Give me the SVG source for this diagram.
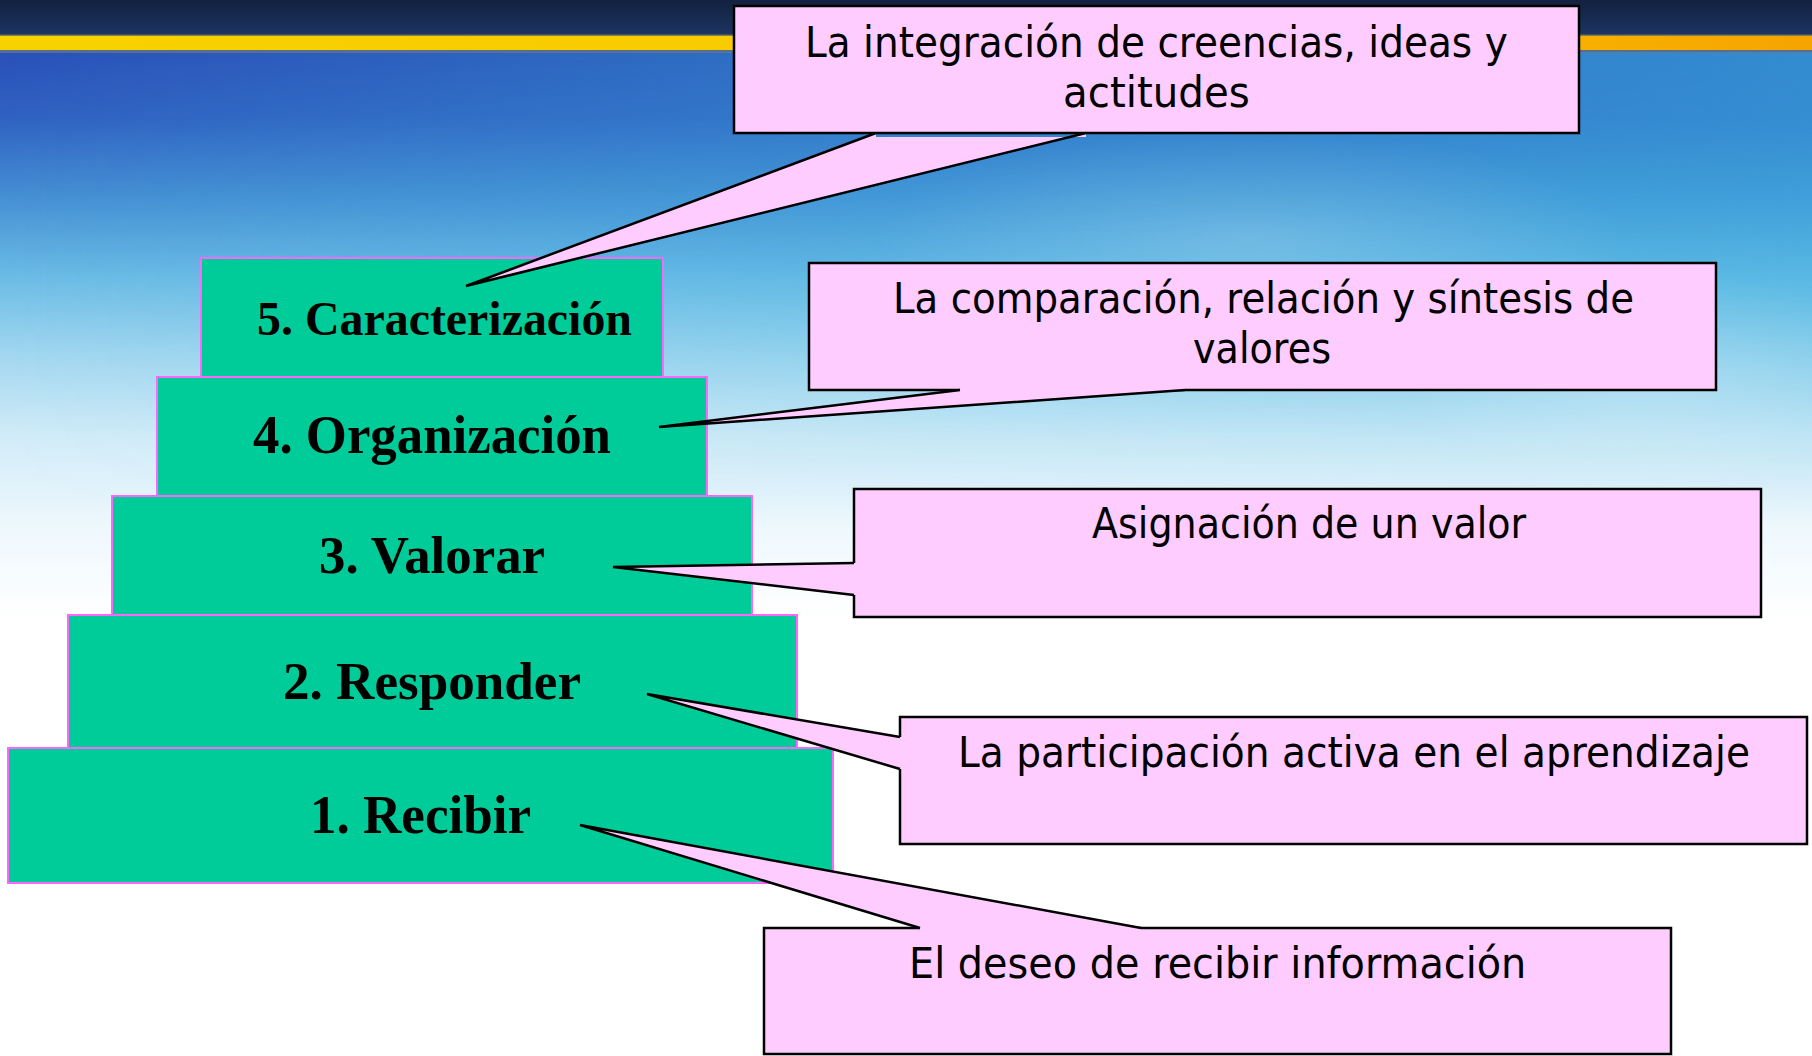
<svg xmlns="http://www.w3.org/2000/svg" width="1812" height="1056" viewBox="0 0 1812 1056">
  <defs>
    <linearGradient id="sky" gradientUnits="userSpaceOnUse" x1="0" y1="50" x2="0" y2="620">
      <stop offset="0" stop-color="#2a50b8"/>
      <stop offset="0.12" stop-color="#3062c2"/>
      <stop offset="0.26" stop-color="#4690d4"/>
      <stop offset="0.4" stop-color="#6cbce6"/>
      <stop offset="0.54" stop-color="#a4d8f0"/>
      <stop offset="0.68" stop-color="#d2ecf8"/>
      <stop offset="0.84" stop-color="#eef8fd"/>
      <stop offset="1" stop-color="#ffffff"/>
    </linearGradient>
    <linearGradient id="tint" x1="0" y1="0" x2="1" y2="0">
      <stop offset="0" stop-color="#3ab4e0" stop-opacity="0"/>
      <stop offset="0.5" stop-color="#3ab4e0" stop-opacity="0.35"/>
      <stop offset="1" stop-color="#3ab4e0" stop-opacity="0.6"/>
    </linearGradient>
    <linearGradient id="fadeV" gradientUnits="userSpaceOnUse" x1="0" y1="52" x2="0" y2="520">
      <stop offset="0" stop-color="#fff" stop-opacity="1"/>
      <stop offset="0.6" stop-color="#fff" stop-opacity="0.5"/>
      <stop offset="1" stop-color="#fff" stop-opacity="0"/>
    </linearGradient>
    <mask id="tintMask">
      <rect x="0" y="52" width="1812" height="470" fill="url(#fadeV)"/>
    </mask>
    <radialGradient id="cloud" cx="0.5" cy="0.5" r="0.5">
      <stop offset="0" stop-color="#ffffff" stop-opacity="0.18"/>
      <stop offset="1" stop-color="#ffffff" stop-opacity="0"/>
    </radialGradient>
    <linearGradient id="navy" x1="0" y1="0" x2="0" y2="1">
      <stop offset="0" stop-color="#13213f"/>
      <stop offset="1" stop-color="#1c3462"/>
    </linearGradient>
    <linearGradient id="gold" x1="0" y1="0" x2="1" y2="0">
      <stop offset="0" stop-color="#f8d200"/>
      <stop offset="0.6" stop-color="#f8c800"/>
      <stop offset="1" stop-color="#f6a400"/>
    </linearGradient>
    <style>
      .step { fill: #00cc99; stroke: #ff66ff; stroke-width: 2; }
      .steptxt { font-family: "Liberation Serif", "Times New Roman", serif; font-weight: bold; fill: #000; }
      .call { fill: #ffccff; stroke: #000; stroke-width: 2.5; }
      .calltxt { font-family: "DejaVu Sans", "Noto Sans", sans-serif; font-size: 43px; fill: #000; }
      .wedge { fill: #ffccff; stroke: none; }
      .wedgeline { fill: none; stroke: #000; stroke-width: 2.5; stroke-linejoin: miter; }
    </style>
  </defs>

  <!-- background -->
  <g id="background">
    <rect x="0" y="0" width="1812" height="1056" fill="#ffffff"/>
    <rect x="0" y="50" width="1812" height="1006" fill="url(#sky)"/>
    <rect x="0" y="52" width="1812" height="470" fill="url(#tint)" mask="url(#tintMask)"/>
    <ellipse cx="1250" cy="240" rx="380" ry="110" fill="url(#cloud)"/>
    <ellipse cx="1650" cy="380" rx="250" ry="110" fill="url(#cloud)"/>
    <rect x="0" y="0" width="1812" height="35" fill="url(#navy)"/>
    <rect x="0" y="34" width="1812" height="3" fill="#5a5a3a" opacity="0.8"/>
    <rect x="0" y="36" width="1812" height="14" fill="url(#gold)"/>
    <rect x="0" y="50" width="1812" height="3" fill="#6a7a80" opacity="0.7"/>
  </g>

  <!-- pyramid steps -->
  <g id="step1">
    <rect class="step" x="8" y="748" width="825" height="135"/>
    <text class="steptxt" x="310" y="833" font-size="54" textLength="221" lengthAdjust="spacingAndGlyphs">1. Recibir</text>
  </g>
  <g id="step2">
    <rect class="step" x="68" y="615" width="729" height="133"/>
    <text class="steptxt" x="283" y="699" font-size="53" textLength="298" lengthAdjust="spacingAndGlyphs">2. Responder</text>
  </g>
  <g id="step3">
    <rect class="step" x="112" y="496" width="640" height="119"/>
    <text class="steptxt" x="319" y="573" font-size="52" textLength="226" lengthAdjust="spacingAndGlyphs">3. Valorar</text>
  </g>
  <g id="step4">
    <rect class="step" x="157" y="377" width="550" height="119"/>
    <text class="steptxt" x="253" y="453" font-size="55" textLength="358" lengthAdjust="spacingAndGlyphs">4. Organización</text>
  </g>
  <g id="step5">
    <rect class="step" x="201" y="258" width="462" height="119"/>
    <text class="steptxt" x="257" y="335" font-size="48" textLength="375" lengthAdjust="spacingAndGlyphs">5. Caracterización</text>
  </g>

  <!-- callout boxes -->
  <g id="callout5">
    <rect class="call" x="734" y="6" width="845" height="127"/>
    <text class="calltxt" transform="matrix(0.75 0 0 1 805 57)" x="0" y="0" textLength="937" lengthAdjust="spacingAndGlyphs">La integración de creencias, ideas y</text>
    <text class="calltxt" transform="matrix(0.75 0 0 1 1063 107)" x="0" y="0" textLength="249" lengthAdjust="spacingAndGlyphs">actitudes</text>
  </g>
  <g id="callout4">
    <rect class="call" x="809" y="263" width="907" height="127"/>
    <text class="calltxt" transform="matrix(0.75 0 0 1 893 313)" x="0" y="0" textLength="988" lengthAdjust="spacingAndGlyphs">La comparación, relación y síntesis de</text>
    <text class="calltxt" transform="matrix(0.75 0 0 1 1193 363)" x="0" y="0" textLength="184" lengthAdjust="spacingAndGlyphs">valores</text>
  </g>
  <g id="callout3">
    <rect class="call" x="854" y="489" width="907" height="128"/>
    <text class="calltxt" transform="matrix(0.75 0 0 1 1092 538)" x="0" y="0" textLength="579" lengthAdjust="spacingAndGlyphs">Asignación de un valor</text>
  </g>
  <g id="callout2">
    <rect class="call" x="900" y="717" width="907" height="127"/>
    <text class="calltxt" transform="matrix(0.75 0 0 1 958 767)" x="0" y="0" textLength="1056" lengthAdjust="spacingAndGlyphs">La participación activa en el aprendizaje</text>
  </g>
  <g id="callout1">
    <rect class="call" x="764" y="928" width="907" height="126"/>
    <text class="calltxt" transform="matrix(0.75 0 0 1 909 978)" x="0" y="0" textLength="823" lengthAdjust="spacingAndGlyphs">El deseo de recibir información</text>
  </g>

  <!-- connectors (callout pointers) -->
  <g id="connectors">
    <polygon class="wedge" points="466,286 876,133 876,137 1086,137 1086,133"/>
    <polyline class="wedgeline" points="876,133 466,286 1086,133"/>
    <polygon class="wedge" points="659,427 960,390 960,386 1185,386 1185,390"/>
    <polyline class="wedgeline" points="960,390 659,427 1185,390"/>
    <polygon class="wedge" points="613,567 854,563 858,563 858,595 854,595"/>
    <polyline class="wedgeline" points="854,563 613,567 854,595"/>
    <polygon class="wedge" points="647,694 900,737 904,737 904,769 900,769"/>
    <polyline class="wedgeline" points="900,737 647,694 900,769"/>
    <polygon class="wedge" points="580,825 920,928 920,932 1141,932 1141,928"/>
    <polyline class="wedgeline" points="920,928 580,825 1141,928"/>
  </g>
</svg>
